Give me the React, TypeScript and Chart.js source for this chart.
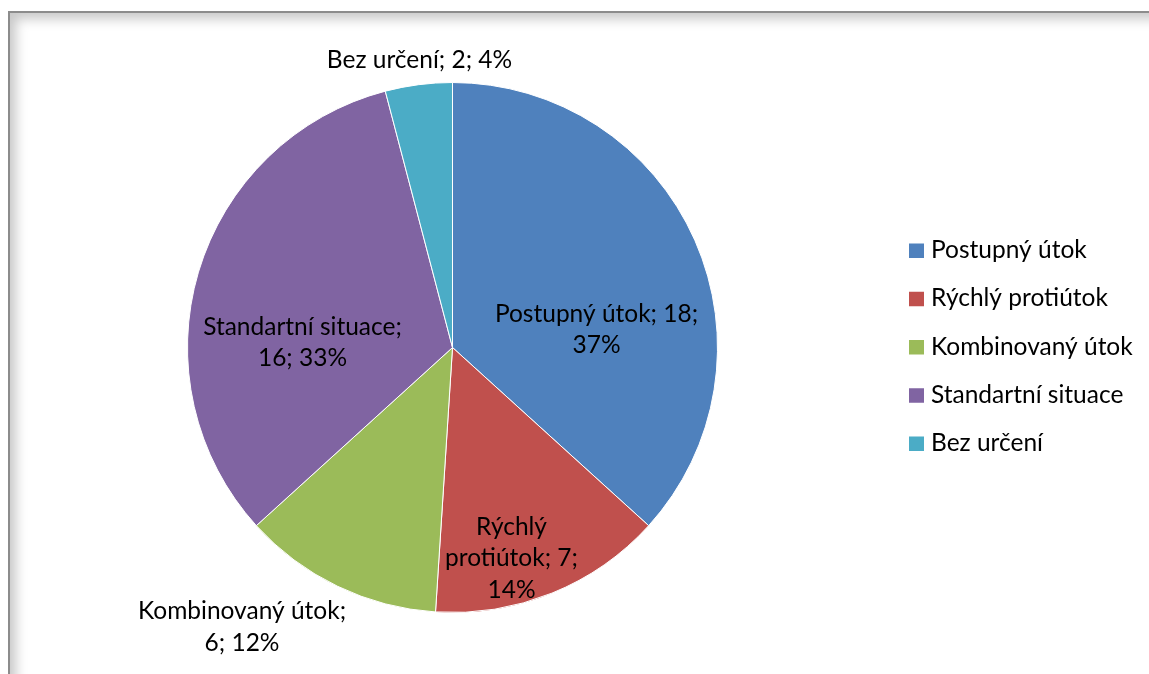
import React, { useEffect, useRef } from "react";
import { Chart, registerables } from "chart.js";

Chart.register(...registerables);

const categories = ["Postupný útok", "Rýchlý protiútok", "Kombinovaný útok", "Standartní situace", "Bez určení"];
const values = [18, 7, 6, 16, 2];
const percentTexts = ["37%", "14%", "12%", "33%", "4%"];
const colors = ["#4F81BD", "#C0504D", "#9BBB59", "#8064A2", "#4BACC6"];
const dataLabelLines = [
  ["Postupný útok; 18;", "37%"],
  ["Rýchlý", "protiútok; 7;", "14%"],
  ["Kombinovaný útok;", "6; 12%"],
  ["Standartní situace;", "16; 33%"],
  ["Bez určení; 2; 4%"],
];
// label anchor (first baseline) relative to pie centre, in radius units
const labelAnchors = [
  [0.5434, -0.0981],
  [0.2226, 0.7057],
  [-0.7943, 1.0264],
  [-0.566, -0.049],
  [-0.1245, -1.0566],
];

const FONT = "24.5px Lato, 'Open Sans', sans-serif";
const LINE_H = 31.5;

const labelsPlugin = {
  id: "pieLabels",
  afterDatasetsDraw(chart: any) {
    const ctx = chart.ctx;
    const meta = chart.getDatasetMeta(0);
    ctx.save();
    ctx.font = FONT;
    ctx.fillStyle = "#000";
    ctx.textAlign = "center";
    ctx.textBaseline = "alphabetic";
    meta.data.forEach((arc: any, i: number) => {
      const r = arc.outerRadius;
      const x = arc.x + labelAnchors[i][0] * r;
      const y = arc.y + labelAnchors[i][1] * r;
      dataLabelLines[i].forEach((line, j) => {
        ctx.fillText(line, x, y + j * LINE_H);
      });
    });
    ctx.restore();
  },
};

const legendPlugin = {
  id: "rightLegend",
  afterDraw(chart: any) {
    const ctx = chart.ctx;
    const labels = chart.data.labels as string[];
    const bg = chart.data.datasets[0].backgroundColor as string[];
    ctx.save();
    ctx.font = FONT;
    ctx.textAlign = "left";
    ctx.textBaseline = "alphabetic";
    labels.forEach((lab, i) => {
      const base = 258 + i * 48.25;
      ctx.fillStyle = bg[i];
      ctx.fillRect(909, base - 14.5, 15, 14.5);
      ctx.fillStyle = "#000";
      ctx.fillText(lab, 931, base);
    });
    ctx.restore();
  },
};

export default function App() {
  const ref = useRef<HTMLCanvasElement>(null);
  useEffect(() => {
    if (!ref.current) return;
    const chart = new Chart(ref.current, {
      type: "pie",
      data: {
        labels: categories,
        datasets: [
          {
            data: values,
            backgroundColor: colors,
            borderColor: "#ffffff",
            borderWidth: 1,
            hoverOffset: 0,
          },
        ],
      },
      options: {
        responsive: false,
        animation: false,
        layout: { padding: { left: 187, right: 431, top: 82, bottom: 61 } },
        plugins: {
          legend: { display: false },
          tooltip: { enabled: false },
          title: { display: false },
        },
      },
      plugins: [labelsPlugin, legendPlugin],
    });
    return () => chart.destroy();
  }, []);

  return (
    <div style={{ position: "fixed", left: 0, top: 0, width: 1149, height: 674, overflow: "hidden", background: "#fff" }}>
      <canvas ref={ref} width={1149} height={674} style={{ position: "absolute", left: 0, top: 0, display: "block" }} />
      <div
        style={{
          position: "absolute",
          left: 8,
          top: 11,
          width: 1300,
          height: 800,
          borderLeft: "2px solid #8c8c8c",
          borderTop: "2px solid #8c8c8c",
          boxShadow: "inset 6px 6px 12px rgba(0,0,0,0.22)",
          pointerEvents: "none",
        }}
      />
    </div>
  );
}
